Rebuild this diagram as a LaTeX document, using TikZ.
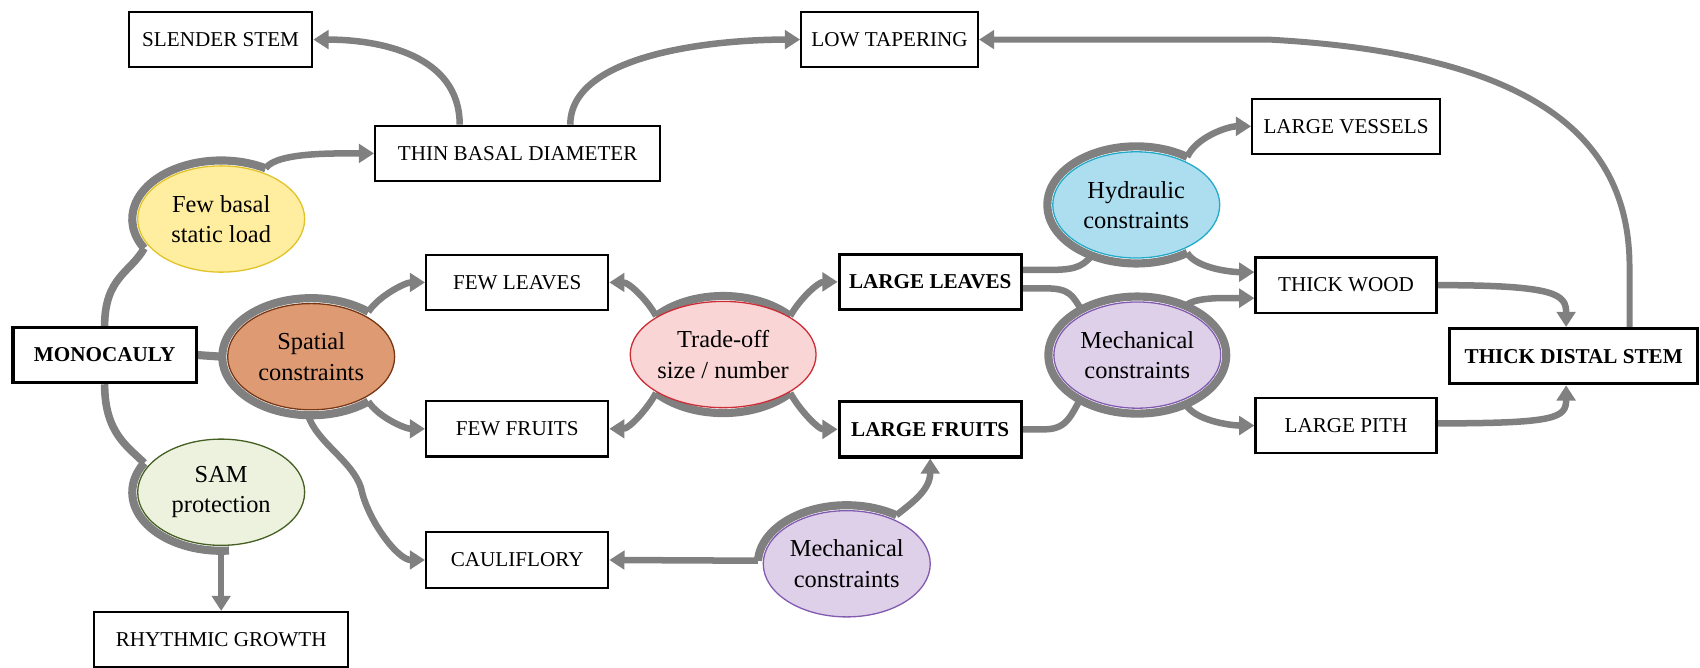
\documentclass[tikz,border=0pt]{standalone}
\usepackage{fontspec}
\setmainfont{Liberation Serif}
\usetikzlibrary{arrows.meta,shapes.geometric,calc}
\pgfdeclarelayer{bg}
\pgfsetlayers{bg,main}
\definecolor{lgrey}{RGB}{128,128,128}
\definecolor{fbfill}{RGB}{255,238,160}
\definecolor{fbline}{RGB}{225,195,40}
\definecolor{spfill}{RGB}{222,155,115}
\definecolor{spline}{RGB}{120,55,20}
\definecolor{samfill}{RGB}{236,242,222}
\definecolor{samline}{RGB}{70,95,35}
\definecolor{trfill}{RGB}{250,213,213}
\definecolor{trline}{RGB}{205,45,55}
\definecolor{hyfill}{RGB}{172,222,240}
\definecolor{hyline}{RGB}{35,170,200}
\definecolor{mefill}{RGB}{222,208,232}
\definecolor{meline}{RGB}{130,90,175}
\newcommand{\ringarc}[3]{\draw[ring] ($(#1)+(#2:82 and 54)$) arc[start angle=#2, end angle=#3, x radius=82, y radius=54];}
\begin{document}
\begin{tikzpicture}[x=1pt,y=-1pt,
  box/.style={draw=black,line width=2pt,fill=white,minimum height=51pt,inner sep=0pt,font=\fontsize{19.5}{23}\selectfont},
  bbox/.style={box,line width=2.8pt,font=\fontsize{19.5}{23}\selectfont\bfseries},
  ell/.style={ellipse,minimum width=154pt,minimum height=98pt,inner sep=0pt,line width=1.2pt,align=center,font=\fontsize{22.5}{28}\selectfont},
  conn/.style={draw=lgrey,line width=6pt},
  arr/.style={conn,-{Triangle[length=14pt,width=17pt]}},
  ring/.style={draw=lgrey,line width=7.5pt},
]
\useasboundingbox (0,0) rectangle (1568,616);
% boxes
\node[box,minimum width=169pt] (slender) at (203.5,36.5) {SLENDER STEM};
\node[box,minimum width=163pt] (lowtap) at (820.5,36.5) {LOW TAPERING};
\node[box,minimum width=263pt] (thin) at (477.5,141.5) {THIN BASAL DIAMETER};
\node[box,minimum width=173pt] (vessels) at (1241.5,116.5) {LARGE VESSELS};
\node[box,minimum width=168pt] (fewleaves) at (477,260.5) {FEW LEAVES};
\node[bbox,minimum width=168pt] (largeleaves) at (858,260) {LARGE LEAVES};
\node[box,minimum width=167pt] (thickwood) at (1241.5,263) {THICK WOOD};
\node[bbox,minimum width=169pt] (mono) at (96.5,327.5) {MONOCAULY};
\node[bbox,minimum width=229pt] (tds) at (1451.5,328.5) {THICK DISTAL STEM};
\node[box,minimum width=168pt] (fewfruits) at (477,395.5) {FEW FRUITS};
\node[bbox,minimum width=168pt] (largefruits) at (858,396) {LARGE FRUITS};
\node[box,minimum width=167pt] (largepith) at (1241.5,392.5) {LARGE PITH};
\node[box,minimum width=168pt] (cauli) at (477,516.5) {CAULIFLORY};
\node[box,minimum width=234pt] (rhythm) at (204,590) {RHYTHMIC GROWTH};
% ellipses
\node[ell,fill=fbfill,draw=fbline] (fb) at (204,202) {Few basal\\static load};
\node[ell,fill=spfill,draw=spline] (spatial) at (287,329) {Spatial\\constraints};
\node[ell,fill=samfill,draw=samline] (sam) at (204,454) {SAM\\protection};
\node[ell,fill=trfill,draw=trline] (trade) at (667,327) {Trade-off\\size / number};
\node[ell,fill=hyfill,draw=hyline] (hyd) at (1048,189) {Hydraulic\\constraints};
\node[ell,fill=mefill,draw=meline] (mechR) at (1049,327.5) {Mechanical\\constraints};
\node[ell,fill=mefill,draw=meline] (mechB) at (781,520) {Mechanical\\constraints};
\begin{pgfonlayer}{bg}
% rings
\ringarc{fb}{150}{300}
\ringarc{spatial}{50}{310}
\ringarc{sam}{85}{210}
\ringarc{trade}{221}{319}
\ringarc{trade}{41}{139}
\ringarc{hyd}{55}{305}
\ringarc{mechR}{0}{360}
\ringarc{mechB}{183}{304}
% connectors
\draw[conn,line width=7pt] (mono.north) .. controls +(0,-45) and +(-12,22) .. ($(fb)+(150:82 and 54)$);
\draw[arr] ($(fb)+(300:82 and 54)$) .. controls +(10,-15) and +(-35,0) .. (thin.west);
\draw[arr] ($(thin.north)+(-53.5,0)$) .. controls +(0,-65) and +(60,0) .. (slender.east);
\draw[arr] ($(thin.north)+(48.5,0)$) .. controls +(0,-65) and +(-80,0) .. (lowtap.west);
\draw[arr,line width=5.5pt] ($(tds.north)+(51.5,0)$) -- (1503,246) .. controls (1503,130) and (1420,50) .. (1170,36.5) -- (lowtap.east);
\draw[ring] (mono.east) -- ($(spatial)+(180:82 and 54)$);
\draw[arr] ($(spatial)+(310:82 and 54)$) .. controls +(10,-15) and +(-18,0) .. (fewleaves.west);
\draw[arr] ($(spatial)+(50:82 and 54)$) .. controls +(10,15) and +(-18,0) .. (fewfruits.west);
\draw[arr] ($(spatial)+(92:82 and 54)$) .. controls +(8,25) and +(-8,-25) .. (333,450) .. controls +(6,30) and +(-25,0) .. (cauli.west);
\draw[conn,line width=7pt] (mono.south) .. controls +(0,45) and +(-15,-15) .. ($(sam)+(210:82 and 54)$);
\draw[arr] ($(sam)+(90:82 and 54)$) -- (rhythm.north);
\draw[arr] ($(trade)+(221:82 and 54)$) .. controls +(-8,-15) and +(18,0) .. (fewleaves.east);
\draw[arr] ($(trade)+(319:82 and 54)$) .. controls +(8,-15) and +(-18,0) .. (largeleaves.west);
\draw[arr] ($(trade)+(139:82 and 54)$) .. controls +(-8,15) and +(18,0) .. (fewfruits.east);
\draw[arr] ($(trade)+(41:82 and 54)$) .. controls +(8,15) and +(-18,0) .. (largefruits.west);
\draw[conn] ($(largeleaves.east)+(0,-11)$) -- +(20,0) .. controls +(25,0) and +(-10,12) .. ($(hyd)+(120:82 and 54)$);
\draw[arr] ($(hyd)+(305:82 and 54)$) .. controls +(8,-18) and +(-22,0) .. (vessels.west);
\draw[arr] ($(hyd)+(55:82 and 54)$) .. controls +(8,14) and +(-22,0) .. ($(thickwood.west)+(0,-12)$);
\draw[conn] ($(largeleaves.east)+(0,6)$) -- +(22,0) .. controls +(22,0) and +(-8,-12) .. ($(mechR)+(231:82 and 54)$);
\draw[conn] (largefruits.east) -- +(20,0) .. controls +(22,0) and +(-8,12) .. ($(mechR)+(130:82 and 54)$);
\draw[arr] ($(mechR)+(303:82 and 54)$) .. controls +(8,-9) and +(-22,0) .. ($(thickwood.west)+(0,12)$);
\draw[arr] ($(mechR)+(57:82 and 54)$) .. controls +(8,15) and +(-22,0) .. (largepith.west);
\draw[arr] (thickwood.east) .. controls +(110,0) and +(0,-30) .. ($(tds.north)+(-7,0)$);
\draw[arr] ($(largepith.east)+(0,-2)$) .. controls +(110,0) and +(0,30) .. ($(tds.south)+(-7,0)$);
\draw[arr] ($(mechB)+(183:82 and 54)$) -- (cauli.east);
\draw[arr] ($(mechB)+(304:82 and 54)$) .. controls +(12,-10) and +(0,30) .. (largefruits.south);
\end{pgfonlayer}
\end{tikzpicture}
\end{document}
